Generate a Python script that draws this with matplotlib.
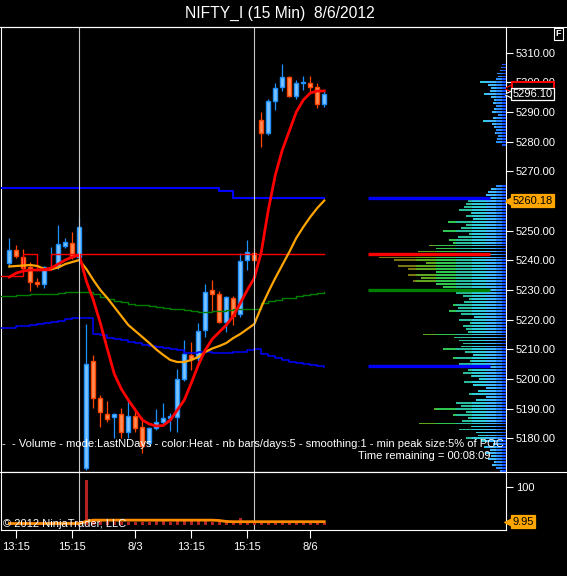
import numpy as np
import matplotlib
matplotlib.use("Agg")
import matplotlib.pyplot as plt
import matplotlib.transforms as mtransforms
from matplotlib.lines import Line2D
from matplotlib.patches import Rectangle
from matplotlib.ticker import FixedFormatter

plt.rcParams['font.family'] = ['Liberation Sans', 'DejaVu Sans']

# ---------------- data ----------------
opens  = [5239.0, 5243.5, 5241.3, 5237.9, 5232.8, 5231.9, 5237.2, 5238.1, 5245.0, 5245.8, 5241.0,
          5170.0, 5206.1, 5193.5, 5188.1, 5187.1, 5188.1, 5182.1, 5187.5, 5183.9, 5178.3, 5183.4,
          5185.6, 5187.0, 5187.3, 5199.9, 5208.0, 5207.0, 5216.5, 5230.0, 5228.7, 5219.1, 5227.2,
          5221.8, 5240.1, 5242.4, 5287.3, 5283.0, 5293.8, 5298.6, 5301.7, 5295.5, 5299.8, 5299.7,
          5298.3, 5292.6]
highs  = [5247.4, 5245.1, 5243.8, 5239.4, 5234.1, 5238.1, 5244.4, 5252.0, 5247.4, 5249.5, 5254.3,
          5218.5, 5208.0, 5194.6, 5192.6, 5188.7, 5190.1, 5193.2, 5190.1, 5187.1, 5184.0, 5190.0,
          5191.8, 5188.5, 5203.4, 5213.2, 5212.4, 5219.0, 5232.0, 5233.4, 5229.8, 5228.1, 5228.0,
          5242.6, 5246.9, 5244.1, 5290.1, 5294.3, 5299.9, 5306.2, 5302.0, 5300.8, 5302.1, 5302.1,
          5299.7, 5297.2]
lows   = [5237.7, 5240.7, 5236.2, 5229.8, 5231.1, 5230.8, 5236.7, 5237.1, 5244.1, 5240.5, 5240.5,
          5169.5, 5190.1, 5183.7, 5185.6, 5180.0, 5180.0, 5180.0, 5182.3, 5175.0, 5177.9, 5183.0,
          5184.4, 5182.6, 5182.3, 5199.5, 5203.0, 5206.0, 5214.1, 5222.7, 5219.0, 5216.0, 5218.2,
          5220.8, 5236.8, 5239.5, 5278.1, 5282.4, 5290.7, 5297.2, 5295.0, 5294.3, 5297.4, 5296.9,
          5291.3, 5291.8]
closes = [5243.5, 5241.5, 5237.5, 5232.8, 5231.9, 5237.8, 5237.8, 5245.4, 5246.1, 5241.0, 5251.4,
          5205.0, 5193.7, 5188.8, 5186.4, 5188.1, 5182.1, 5187.5, 5183.6, 5177.4, 5183.6, 5185.6,
          5186.8, 5187.4, 5200.0, 5208.4, 5206.9, 5216.3, 5229.2, 5228.6, 5219.1, 5227.8, 5221.3,
          5239.9, 5242.9, 5240.1, 5283.0, 5293.8, 5298.0, 5301.7, 5295.5, 5299.9, 5300.0, 5298.3,
          5292.6, 5296.1]

ema_fast = [5234.40, 5235.75, 5236.42, 5236.76, 5236.76, 5236.93, 5237.43, 5238.78, 5240.13, 5241.14,
            5241.81, 5233.05, 5226.65, 5218.90, 5210.14, 5201.71, 5196.66, 5192.94, 5189.57, 5186.20,
            5184.85, 5184.18, 5184.35, 5186.20, 5189.57, 5192.94, 5198.67, 5204.74, 5209.80, 5213.50,
            5215.86, 5218.22, 5221.25, 5225.63, 5230.02, 5234.06, 5242.83, 5256.98, 5268.78, 5277.20,
            5283.61, 5290.01, 5294.06, 5296.42, 5297.09, 5297.09]
ma_slow = [5237.94, 5238.11, 5238.28, 5238.45, 5238.11, 5237.10, 5237.10, 5237.60, 5238.78, 5239.46,
           5240.13, 5237.10, 5233.39, 5230.02, 5227.32, 5224.29, 5221.25, 5218.22, 5216.20, 5214.18,
           5212.15, 5209.97, 5208.11, 5206.43, 5205.76, 5205.76, 5206.43, 5207.44, 5209.13, 5210.31,
           5211.15, 5212.15, 5213.84, 5215.19, 5216.87, 5218.56, 5224.29, 5229.35, 5234.06, 5238.45,
           5242.83, 5247.55, 5251.25, 5254.63, 5257.66, 5260.18]
green_line = [5228.16, 5228.33, 5228.50, 5228.67, 5228.67, 5228.67, 5228.84, 5229.01, 5229.18, 5229.35,
              5229.51, 5229.51, 5228.67, 5227.66, 5226.99, 5226.31, 5225.98, 5225.47, 5225.13, 5224.80,
              5224.46, 5224.29, 5223.95, 5223.78, 5223.62, 5223.28, 5222.94, 5222.77, 5222.70, 5222.94,
              5223.04, 5223.28, 5223.45, 5223.62, 5223.72, 5223.78, 5225.64, 5226.31, 5226.65, 5227.16,
              5227.49, 5228.00, 5228.33, 5228.67, 5229.01, 5229.35]
blue_low = [5217.21, 5217.89, 5218.05, 5218.39, 5218.56, 5218.90, 5219.07, 5219.57, 5220.08, 5220.42,
            5220.59, 5220.59, 5215.19, 5215.02, 5213.84, 5213.34, 5213.17, 5212.49, 5212.15, 5211.65,
            5211.15, 5210.81, 5210.31, 5209.97, 5209.80, 5208.79, 5208.79, 5208.96, 5208.96, 5208.79,
            5208.62, 5208.62, 5209.12, 5209.29, 5209.80, 5209.97, 5208.45, 5207.77, 5207.27, 5206.43,
            5205.92, 5205.42, 5205.08, 5204.91, 5204.41, 5204.07]
blue_top = [5264.3] * 30 + [5263.4] * 2 + [5260.9] * 14
red_level = [5234.84, 5234.84, 5242.05, 5242.05, 5236.76, 5236.76] + [5242.05] * 40

volume = [7, 6, 6, 7, 5, 6, 5, 8, 6, 7, 9,
          120, 14, 11, 9, 8, 8, 8, 8, 8, 9, 12,
          12, 10, 15, 16, 13, 14, 12, 10, 8, 8, 9,
          20, 9, 8, 8, 9, 8, 8, 8, 8, 7, 8, 7, 6]
volume_ma = [5.2] * 11 + [11.0] + [14.0] * 18 + [13.0, 10.5] + [9.9] * 13 + [9.95]

tick_bars = [1, 9, 18, 26, 34, 43]
tick_labels = ['13:15', '15:15', '8/3', '13:15', '15:15', '8/6']
session_bars = [10, 35]
price_ticks = list(range(5180, 5311, 10))
hidden_price_labels = [5260]          # covered by the MA value tag in the original
volume_ticks = [100]

profile_start = 5169
profile_len = [6, 10, 14, 12, 18, 15, 20, 16, 22, 13,
               25, 40, 28, 30, 47, 35, 87, 44, 38, 53,
               40, 72, 45, 50, 30, 20, 37, 28, 20, 33,
               42, 27, 35, 43, 38, 40, 47, 36, 53, 33,
               41, 63, 45, 43, 47, 52, 83, 38, 40, 43,
               36, 47, 32, 45, 57, 48, 53, 42, 37, 43,
               50, 60, 63, 70, 93, 85, 98, 70, 98, 108,
               80, 112, 127, 90, 88, 70, 77, 53, 57, 48,
               37, 63, 45, 40, 58, 33, 40, 35, 47, 42,
               40, 38, 25, 20, 18, 15, 10,
               0, 0, 0, 0, 0, 0, 0, 0, 0, 0, 0, 0, 0,
               4, 10, 9, 8, 11, 10, 12, 14, 23, 13,
               8, 14, 12, 10, 13, 12, 15, 22, 16, 15,
               18, 26, 10, 8, 9, 6, 5, 4]
level_prices = [5260.9, 5242.3, 5230.0, 5204.5]
level_colors = ['#0000ff', '#ff0000', '#008000', '#0000ff']

last_price = 5296.10
ma_last = 5260.18
vol_last = 9.95

# ---------------- layout ----------------
W, H = 567, 576
fig = plt.figure(figsize=(W / 100, H / 100), dpi=100, facecolor='black')


def fx(px):
    return px / W


def fy(py):
    return 1 - py / H


ax = fig.add_axes([fx(1), fy(472), fx(506) - fx(1), fy(27) - fy(472)])
axv = fig.add_axes([fx(1), fy(530), fx(506) - fx(1), fy(472) - fy(530)])
XL = (-1.19, 70.96)
for a in (ax, axv):
    a.set_facecolor('black')
    a.set_xlim(*XL)
    for s in a.spines.values():
        s.set_color('white')
        s.set_linewidth(0.8)
ax.set_ylim(5168.68, 5318.66)
axv.set_ylim(-11.8, 140)

o = np.array(opens); h = np.array(highs); l = np.array(lows); c = np.array(closes)
idx = np.arange(len(c))
up = c >= o
dn = ~up
up_fill, up_edge = '#7cc4ff', '#1e90ff'
dn_fill, dn_edge = '#ff8c55', '#ff4500'
body_h = np.maximum(np.abs(c - o), 0.3)
body_b = np.minimum(o, c)
ax.vlines(idx[up], l[up], h[up], color=up_edge, lw=0.9, zorder=3)
ax.vlines(idx[dn], l[dn], h[dn], color=dn_edge, lw=0.9, zorder=3)
ax.bar(idx[up], body_h[up], bottom=body_b[up], width=0.56, facecolor=up_fill,
       edgecolor=up_edge, lw=1.0, zorder=4)
ax.bar(idx[dn], body_h[dn], bottom=body_b[dn], width=0.56, facecolor=dn_fill,
       edgecolor=dn_edge, lw=1.0, zorder=4)


def step_line(a, vals, **kw):
    xs = np.concatenate([[XL[0]], idx])
    ys = np.concatenate([[vals[0]], vals])
    a.plot(xs, ys, drawstyle='steps-post', **kw)


step_line(ax, np.array(blue_top), color='#0000ff', lw=1.5, zorder=5)
step_line(ax, np.array(red_level), color='#ff0000', lw=1.0, zorder=5)
step_line(ax, np.array(green_line), color='#008000', lw=1.0, zorder=5)
step_line(ax, np.array(blue_low), color='#0000ff', lw=1.1, zorder=5)
ax.plot(idx, ma_slow, color='#ffa500', lw=1.6, zorder=6)
ax.plot(idx, ema_fast, color='#ff0000', lw=2.0, zorder=7)

for b in session_bars:
    ax.axvline(b, color='#c8c8c8', lw=0.8, zorder=8)
    axv.axvline(b, color='#c8c8c8', lw=0.8, zorder=1)

# right price axis
ax.set_xticks([])
ax.yaxis.tick_right()
ax.set_yticks(price_ticks)
ax.yaxis.set_major_formatter(FixedFormatter(
    ['' if p in hidden_price_labels else f'{p:.2f}' for p in price_ticks]))
ax.tick_params(axis='y', colors='white', length=5, width=0.8, labelsize=8, pad=2)

# volume panel
axv.bar(idx, volume, width=0.45, color='#b22222', zorder=2)
axv.plot(idx, volume_ma, color='#ff8c00', lw=2.0, zorder=3)
axv.yaxis.tick_right()
axv.set_yticks(volume_ticks)
axv.set_yticklabels([str(v) for v in volume_ticks])
axv.tick_params(axis='y', colors='white', length=5, width=0.8, labelsize=8, pad=2)
axv.set_xticks(tick_bars)
axv.set_xticklabels(tick_labels)
axv.tick_params(axis='x', colors='white', length=6, width=0.8, labelsize=8, pad=3)

# volume profile (drawn from the right edge leftwards)
axp = ax.twiny()
axp.set_xlim(505, 0)
axp.xaxis.set_visible(False)
for s in axp.spines.values():
    s.set_visible(False)
prof_prices = profile_start + np.arange(len(profile_len))
plen = np.array(profile_len, dtype=float)
seg_edges = [0, 4, 10, 20, 34, 50, 70, 90, 300]
seg_colors = ['#1450ff', '#2a8cff', '#40b8ff', '#30ccdc', '#28bc9c', '#30c450', '#5ea820', '#7a7812']
for k in range(len(seg_colors)):
    e0, e1 = seg_edges[k], seg_edges[k + 1]
    w = np.clip(plen - e0, 0, e1 - e0)
    m = w > 0
    axp.barh(prof_prices[m], w[m], left=e0, height=0.62, color=seg_colors[k], lw=0, zorder=2)
axp.hlines(level_prices, 16, 138, colors=level_colors, lw=2.4, zorder=3)

# value tags on the right axis
tr_main = mtransforms.blended_transform_factory(ax.transAxes, ax.transData)
tr_vol = mtransforms.blended_transform_factory(axv.transAxes, axv.transData)


def tag(a, tr, value, text, fc, ec, tc, z):
    a.plot([1.006], [value], marker='<', ms=7, mfc=fc, mec=ec, mew=0.8,
           transform=tr, clip_on=False, zorder=z)
    a.text(1.013, value, text, transform=tr, ha='left', va='center', fontsize=8,
           color=tc, zorder=z + 0.5, clip_on=False,
           bbox=dict(boxstyle='square,pad=0.12', fc=fc, ec=ec, lw=0.9))


# red EMA tag, mostly hidden behind the last-price tag
ema_tag_v = ema_fast[-1] + 1.0
ax.plot([1.006], [ema_tag_v], marker='<', ms=7, mfc='black', mec='#ff0000', mew=0.8,
        transform=tr_main, clip_on=False, zorder=10)
ax.add_patch(Rectangle((1.012, ema_tag_v - 2.0), 0.084, 4.0, transform=tr_main, fc='black',
                       ec='#ff0000', lw=1.4, clip_on=False, zorder=10))
tag(ax, tr_main, last_price, f'{last_price:.2f}', 'black', 'white', 'white', 12)
tag(ax, tr_main, ma_last, f'{ma_last:.2f}', '#ffa500', '#ffa500', 'black', 12)
tag(axv, tr_vol, vol_last, f'{vol_last:.2f}', '#ffa500', '#ffa500', 'black', 12)

# frame lines spanning full width
for py in (27, 472):
    fig.add_artist(Line2D([0, 1], [fy(py), fy(py)], color='white', lw=0.8,
                          transform=fig.transFigure))

# texts
title = fig.text(fx(280), fy(13), 'NIFTY_I (15 Min)  8/6/2012', ha='center', va='center',
                 color='white', fontsize=11.5)
info = fig.text(fx(2), fy(444),
                '-  - Volume - mode:LastNDays - color:Heat - nb bars/days:5 - smoothing:1 - min peak size:5% of POC',
                ha='left', va='center', color='white', fontsize=8, zorder=20)
trem = fig.text(fx(490), fy(456), 'Time remaining = 00:08:09', ha='right', va='center',
                color='white', fontsize=8, zorder=20)
copy = fig.text(fx(3), fy(524), '\u00a9 2012 NinjaTrader, LLC', ha='left', va='center',
                color='white', fontsize=8, zorder=20)
fig.text(fx(558.5), fy(34), 'F', ha='center', va='center', color='white', fontsize=6.5,
         fontweight='bold', bbox=dict(boxstyle='square,pad=0.15', fc='black', ec='white', lw=0.8))

renderer = fig.canvas.get_renderer()
for t, target in ((title, 190), (info, 500), (trem, 132), (copy, 123)):
    bb = t.get_window_extent(renderer=renderer)
    t.set_fontsize(t.get_fontsize() * target / bb.width)

fig.savefig('out.png', dpi=100, facecolor='black')
